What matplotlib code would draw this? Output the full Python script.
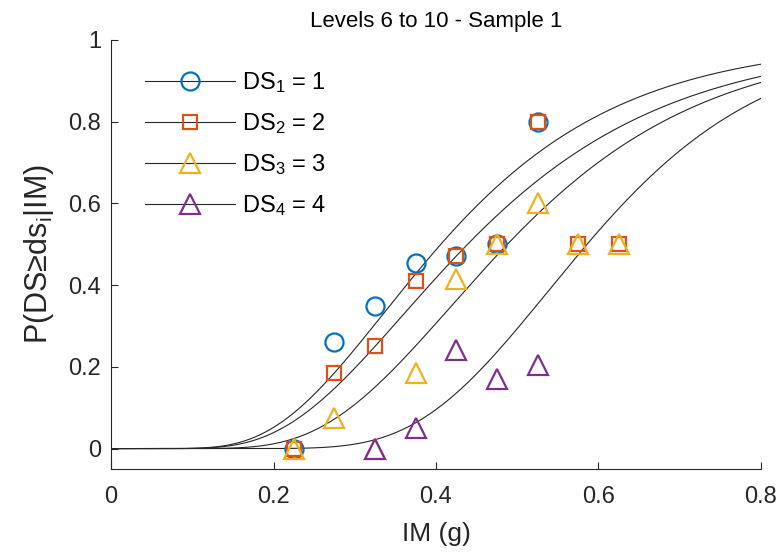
import numpy as np
import matplotlib
matplotlib.use("Agg")
import matplotlib.pyplot as plt
from math import erf, sqrt, log

plt.rcParams["font.family"] = ["Liberation Sans", "DejaVu Sans"]
plt.rcParams["mathtext.fontset"] = "custom"
plt.rcParams["mathtext.rm"] = "Liberation Sans"
plt.rcParams["mathtext.it"] = "Liberation Sans:italic"

# observed fractions per damage state
im_ds1 = [0.225, 0.275, 0.325, 0.375, 0.425, 0.475, 0.525]
p_ds1 = [0.0, 0.26, 0.35, 0.455, 0.47, 0.50, 0.80]
im_ds2 = [0.225, 0.275, 0.325, 0.375, 0.425, 0.475, 0.525, 0.575, 0.625]
p_ds2 = [0.0, 0.185, 0.25, 0.41, 0.47, 0.50, 0.80, 0.50, 0.50]
im_ds3 = [0.225, 0.275, 0.325, 0.375, 0.425, 0.475, 0.525, 0.575, 0.625]
p_ds3 = [0.0, 0.075, 0.0, 0.185, 0.415, 0.50, 0.60, 0.50, 0.50]
im_ds4 = [0.325, 0.375, 0.425, 0.475, 0.525]
p_ds4 = [0.0, 0.05, 0.24, 0.17, 0.205]

# fitted lognormal fragility parameters (median, dispersion)
medians = [0.406, 0.439, 0.488, 0.586]
betas = [0.435, 0.446, 0.393, 0.292]

colors = ["#0072BD", "#D95319", "#EDB120", "#7E2F8E"]
markers = ["o", "s", "^", "^"]
msizes = [13, 10, 15, 15]


def lognorm_cdf(x, theta, beta):
    return np.array([0.0 if v <= 0 else 0.5 * (1 + erf(log(v / theta) / (beta * sqrt(2)))) for v in x])


fig = plt.figure(figsize=(7.82, 5.54), dpi=100)
ax = fig.add_axes([0.142, 0.1534, 0.831, 0.7746])

x = np.linspace(0.0, 0.8, 400)
data = [(im_ds1, p_ds1), (im_ds2, p_ds2), (im_ds3, p_ds3), (im_ds4, p_ds4)]

handles = []
for i in range(4):
    ax.plot(x, lognorm_cdf(x, medians[i], betas[i]), color="#262626", lw=0.8, zorder=1)
for i in range(4):
    ax.plot(data[i][0], data[i][1], linestyle="none", marker=markers[i], ms=msizes[i],
            mfc="none", mec=colors[i], mew=1.6, zorder=3)
    h, = ax.plot([], [], color="#262626", lw=0.8, marker=markers[i], ms=msizes[i],
                 mfc="none", mec=colors[i], mew=1.6)
    handles.append(h)

labels = ["DS$_\\mathrm{%d}$ = %d" % (i + 1, i + 1) for i in range(4)]
ax.legend(handles, labels, loc="upper left", bbox_to_anchor=(0.02, 0.978), frameon=False,
          fontsize=17, handlelength=3.8, labelspacing=0.68, handletextpad=0.3)

ax.set_xlim(0, 0.8)
ax.set_ylim(-0.05, 1)
ax.set_xticks([0, 0.2, 0.4, 0.6, 0.8])
ax.set_xticklabels(["0", "0.2", "0.4", "0.6", "0.8"])
ax.set_yticks([0, 0.2, 0.4, 0.6, 0.8, 1])
ax.set_yticklabels(["0", "0.2", "0.4", "0.6", "0.8", "1"])
ax.tick_params(direction="in", length=5, labelsize=17, colors="#262626")
ax.tick_params(axis="x", pad=12)
ax.tick_params(axis="y", pad=7)
for s in ["top", "right"]:
    ax.spines[s].set_visible(False)
for s in ["left", "bottom"]:
    ax.spines[s].set_color("#262626")
    ax.spines[s].set_linewidth(0.8)

ax.set_xlabel("IM (g)", fontsize=19, color="#262626", labelpad=10)
ax.set_ylabel("P(DS\u2265ds$_\\mathrm{i}$|IM)", fontsize=22, color="#262626", labelpad=9)
ax.set_title("Levels 6 to 10 - Sample 1", fontsize=16, color="#000000", pad=9)

fig.savefig("out.png", dpi=100)
